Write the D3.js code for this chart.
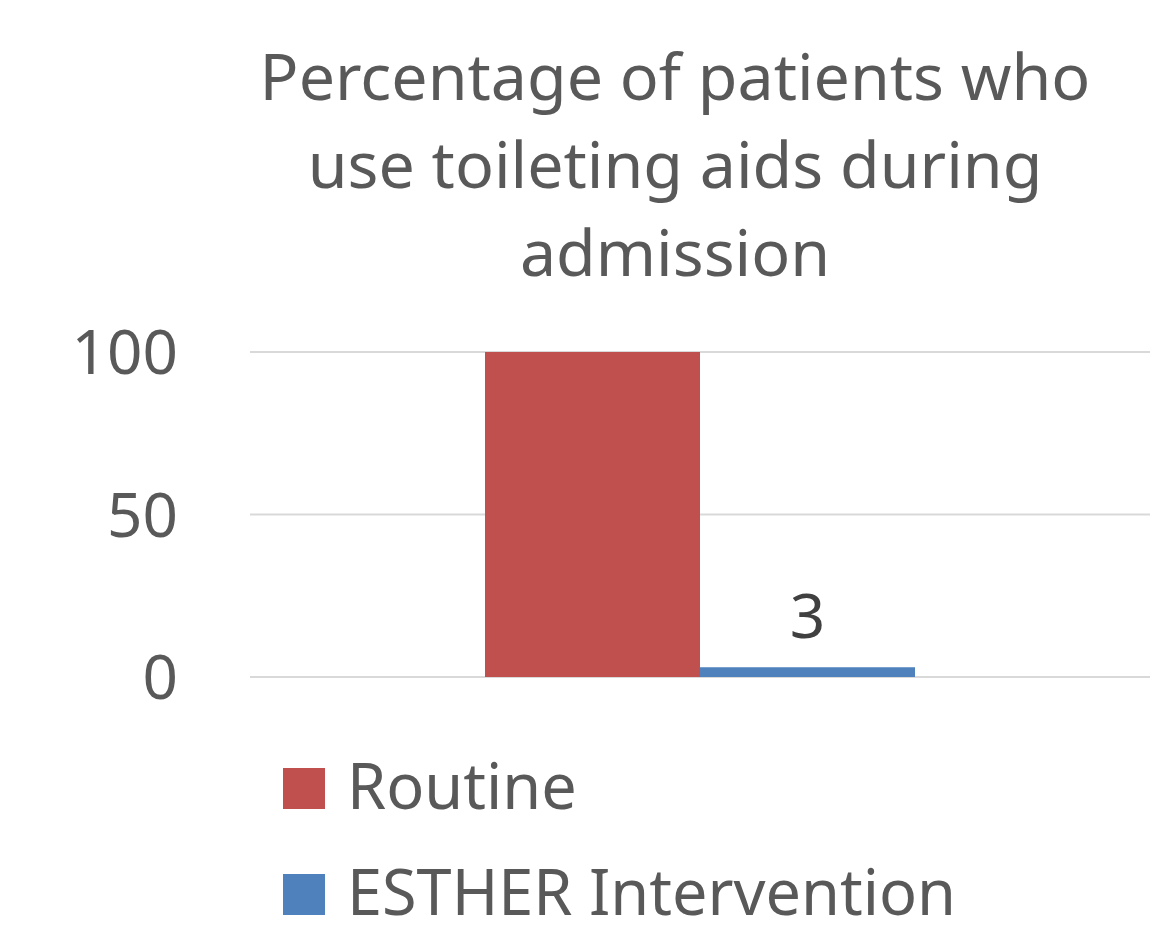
<!DOCTYPE html>
<html>
<head>
<meta charset="utf-8">
<script src="https://cdn.jsdelivr.net/npm/d3@7"></script>
<style>
  body { margin: 0; background: #fff; }
  svg text { font-family: "Noto Sans", "Open Sans", sans-serif; }
</style>
</head>
<body>
<svg id="chart" width="1170" height="936"></svg>
<script>
// data
const titleLines = ["Percentage of patients who", "use toileting aids during", "admission"];
const categories = ["Toileting aids"];
const seriesNames = ["Routine", "ESTHER Intervention"];
const seriesColors = ["#C0504D", "#4F81BD"];
const routineValues = [100];
const estherValues = [3];
const yTicks = [0, 50, 100];

const svg = d3.select("#chart");
const textColor = "#595959";

// title
svg.append("g").selectAll("text").data(titleLines).enter().append("text")
    .attr("x", 675)
    .attr("y", (d, i) => 100 + i * 88)
    .attr("text-anchor", "middle")
    .attr("fill", textColor)
    .style("font-size", "64.5px")
    .text(d => d);

// scales
const margin = {left: 250, right: 20, top: 352, bottom: 259};
const width = 1170 - margin.left - margin.right;
const height = 936 - margin.top - margin.bottom;

const g = svg.append("g").attr("transform", "translate(" + margin.left + "," + margin.top + ")");

const x0 = d3.scaleBand().domain(categories).range([0, width]).paddingOuter(0.5465).paddingInner(0);
const x1 = d3.scaleBand().domain(seriesNames).range([0, x0.bandwidth()]).padding(0);
const y = d3.scaleLinear().domain([0, 100]).range([height, 0]);

// grid
g.selectAll(".grid").data(yTicks).enter().append("line")
    .attr("class", "grid")
    .attr("x1", 0).attr("x2", width)
    .attr("y1", d => y(d)).attr("y2", d => y(d))
    .attr("stroke", "#D9D9D9").attr("stroke-width", 2);

// y axis labels
const yAxis = d3.axisLeft(y).tickValues(yTicks).tickSize(0).tickPadding(72);
const ya = g.append("g").call(yAxis);
ya.select(".domain").remove();
ya.selectAll("text").attr("fill", textColor).style("font-size", "62px")
    .attr("dy", "0.35em");

// bars
const rows = categories.map((c, i) => ({
    cat: c,
    values: [
        {name: seriesNames[0], v: routineValues[i]},
        {name: seriesNames[1], v: estherValues[i]}
    ]
}));
const color = d3.scaleOrdinal().domain(seriesNames).range(seriesColors);

const cg = g.selectAll(".cat").data(rows).enter().append("g")
    .attr("transform", d => "translate(" + x0(d.cat) + ",0)");
cg.selectAll("rect").data(d => d.values).enter().append("rect")
    .attr("x", d => x1(d.name))
    .attr("y", d => y(d.v))
    .attr("width", x1.bandwidth())
    .attr("height", d => height - y(d.v))
    .attr("fill", d => color(d.name));

// data label only on the ESTHER bar
cg.selectAll(".lbl").data(d => d.values.filter(v => v.name === seriesNames[1])).enter().append("text")
    .attr("class", "lbl")
    .attr("x", d => x1(d.name) + x1.bandwidth() / 2)
    .attr("y", d => y(d.v) - 29)
    .attr("text-anchor", "middle")
    .attr("fill", "#404040")
    .style("font-size", "62px")
    .text(d => d.v);

// legend
const legend = svg.append("g").attr("transform", "translate(283,768)");
const li = legend.selectAll("g").data(seriesNames).enter().append("g")
    .attr("transform", (d, i) => "translate(0," + (i * 106) + ")");
li.append("rect").attr("width", 42).attr("height", 41).attr("fill", d => color(d));
li.append("text").attr("x", 64).attr("y", 41)
    .attr("fill", textColor)
    .style("font-size", "63px")
    .text(d => d);
</script>
</body>
</html>
